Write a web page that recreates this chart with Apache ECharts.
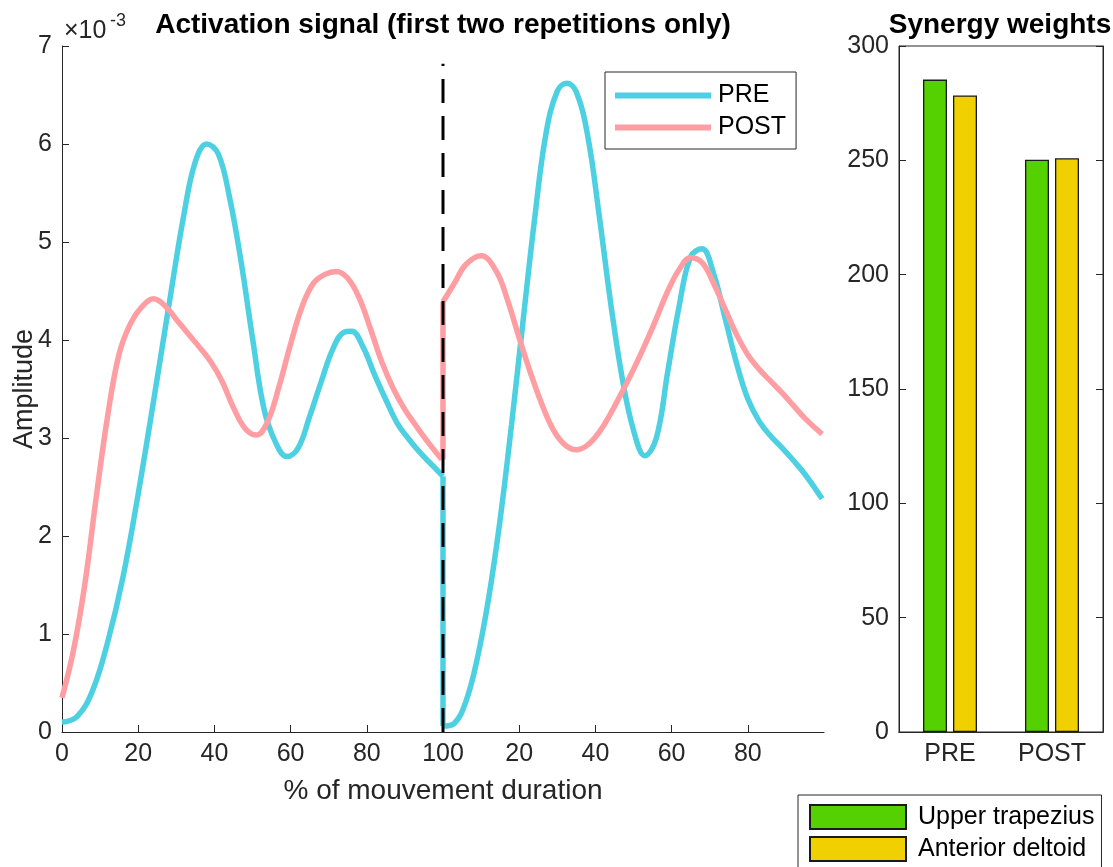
<!DOCTYPE html>
<html>
<head>
<meta charset="utf-8">
<script src="https://cdn.jsdelivr.net/npm/echarts@6/dist/echarts.min.js"></script>
<style>
  html, body { margin: 0; padding: 0; background: #fff; }
  #chart { width: 1113px; height: 867px; }
</style>
</head>
<body>
<div id="chart"></div>
<script>
// activation signal, amplitude in 1e-3 units, x = % of movement (second rep shifted by 100)
const preX1 = [0, 4, 8, 12, 16, 20, 24, 28, 32, 35, 38, 41, 44, 47, 50, 53, 56, 59, 62, 65, 68, 71, 74, 76, 79, 82, 85, 88, 91, 94, 97, 100];
const preY1 = [0.10, 0.16, 0.42, 0.92, 1.58, 2.43, 3.37, 4.34, 5.28, 5.82, 6.00, 5.90, 5.45, 4.80, 4.02, 3.30, 2.96, 2.81, 2.90, 3.22, 3.57, 3.90, 4.08, 4.09, 3.93, 3.65, 3.39, 3.15, 2.99, 2.85, 2.73, 2.61];

const postX1 = [0, 3, 6, 9, 12, 15, 18, 21, 24, 27, 30, 33, 36, 39, 42, 45, 48, 51, 54, 57, 60, 63, 66, 69, 72, 75, 78, 81, 84, 87, 90, 93, 96, 99.7];
const postY1 = [0.35, 0.83, 1.51, 2.40, 3.23, 3.86, 4.17, 4.34, 4.42, 4.35, 4.21, 4.07, 3.93, 3.78, 3.58, 3.31, 3.10, 3.03, 3.17, 3.53, 3.96, 4.34, 4.58, 4.67, 4.70, 4.63, 4.43, 4.11, 3.77, 3.50, 3.29, 3.12, 2.96, 2.78];

const preX2 = [100, 103, 106, 109, 112, 115, 118, 121, 124, 127, 130, 132.5, 135, 138, 141, 144, 147, 150, 153, 156, 159, 162, 165, 168, 171, 174, 177, 180, 183, 186, 189, 192, 195, 199.5];
const preY2 = [0.06, 0.09, 0.31, 0.75, 1.37, 2.17, 3.14, 4.19, 5.22, 6.10, 6.54, 6.62, 6.53, 6.08, 5.27, 4.38, 3.62, 3.08, 2.82, 3.00, 3.68, 4.35, 4.85, 4.93, 4.68, 4.23, 3.77, 3.40, 3.17, 3.02, 2.90, 2.77, 2.63, 2.38];

const postX2 = [100, 103, 106, 110, 114, 117, 120, 123, 126, 129, 132, 135, 138, 141, 144, 147, 150, 153, 156, 159, 162, 165, 168, 171, 174, 177, 180, 183, 186, 189, 192, 195, 199.5];
const postY2 = [4.39, 4.58, 4.77, 4.86, 4.70, 4.40, 4.02, 3.66, 3.34, 3.08, 2.93, 2.88, 2.93, 3.06, 3.25, 3.47, 3.70, 3.95, 4.22, 4.50, 4.72, 4.84, 4.79, 4.58, 4.32, 4.06, 3.85, 3.70, 3.58, 3.46, 3.33, 3.20, 3.04];

// vertical jump between repetitions and the separator line
const preJumpY = [2.61, 0.06];
const postJumpY = [2.78, 4.39];
const cutY = [0, 6.82];

const xTicks = [0, 20, 40, 60, 80, 100, 120, 140, 160, 180];

// synergy weights
const groups = ['PRE', 'POST'];
const upperTrap = [285.3, 250.3];
const antDelt = [278.4, 250.9];

const zip = (xs, ys) => xs.map((x, i) => [x, ys[i]]);
const FONT = "'Liberation Sans', Arial, sans-serif";
const AX = '#262626';
const CYAN = '#4dd0e1';
const PINK = '#ff9ea2';

const chart = echarts.init(document.getElementById('chart'), null, { renderer: 'canvas' });

const lineSeries = (name, data, color, smooth) => ({
  type: 'line', name, data, xAxisIndex: 0, yAxisIndex: 0,
  smooth, symbol: 'none',
  lineStyle: { color, width: 5.5 }, itemStyle: { color }
});

const option = {
  animation: false,
  textStyle: { fontFamily: FONT },
  grid: [
    { left: 62, top: 46, width: 762, height: 686, outerBoundsMode: 'none', containLabel: false },
    { left: 899, top: 46, width: 204, height: 686, outerBoundsMode: 'none', containLabel: false,
      show: true, borderColor: AX, borderWidth: 1, backgroundColor: 'transparent' }
  ],
  xAxis: [
    {
      type: 'value', gridIndex: 0, min: 0, max: 200,
      axisLine: { lineStyle: { color: AX, width: 1 } },
      axisTick: { inside: true, length: 7, customValues: xTicks, lineStyle: { color: AX } },
      axisLabel: {
        customValues: xTicks, fontSize: 25, color: AX, fontFamily: FONT, margin: 10,
        formatter: v => String(v > 100 ? v - 100 : v)
      },
      splitLine: { show: false },
      name: '% of mouvement duration', nameLocation: 'middle', nameGap: 45, nameMoveOverlap: false,
      nameTextStyle: { fontSize: 28, color: AX, fontFamily: FONT }
    },
    {
      type: 'category', gridIndex: 1, data: groups,
      axisLine: { lineStyle: { color: AX } },
      axisTick: { inside: true, length: 7, alignWithLabel: true, lineStyle: { color: AX } },
      axisLabel: { fontSize: 25, color: AX, fontFamily: FONT, margin: 10 }
    },
    {
      type: 'category', gridIndex: 1, data: groups, position: 'top',
      axisLine: { lineStyle: { color: AX } },
      axisTick: { inside: true, length: 7, alignWithLabel: true, lineStyle: { color: AX } },
      axisLabel: { show: false }
    }
  ],
  yAxis: [
    {
      type: 'value', gridIndex: 0, min: 0, max: 7, interval: 1,
      axisLine: { show: true, lineStyle: { color: AX, width: 1 } },
      axisTick: { show: true, inside: true, length: 7, lineStyle: { color: AX } },
      axisLabel: { fontSize: 25, color: AX, fontFamily: FONT, margin: 10 },
      splitLine: { show: false },
      name: 'Amplitude', nameLocation: 'middle', nameGap: 24, nameMoveOverlap: false,
      nameTextStyle: { fontSize: 27, color: AX, fontFamily: FONT }
    },
    {
      type: 'value', gridIndex: 1, min: 0, max: 300, interval: 50,
      axisLine: { show: true, lineStyle: { color: AX } },
      axisTick: { show: true, inside: true, length: 7, lineStyle: { color: AX } },
      axisLabel: { fontSize: 25, color: AX, fontFamily: FONT, margin: 10 },
      splitLine: { show: false }
    },
    {
      type: 'value', gridIndex: 1, min: 0, max: 300, interval: 50, position: 'right',
      axisLine: { show: true, lineStyle: { color: AX } },
      axisTick: { show: true, inside: true, length: 7, lineStyle: { color: AX } },
      axisLabel: { show: false },
      splitLine: { show: false }
    }
  ],
  legend: [
    {
      data: [{ name: 'PRE', icon: 'rect' }, { name: 'POST', icon: 'rect' }],
      left: 605, top: 72, orient: 'vertical',
      itemWidth: 96, itemHeight: 6, itemGap: 7,
      padding: [11, 10, 9, 10],
      backgroundColor: '#fff', borderColor: AX, borderWidth: 1,
      selectedMode: false,
      textStyle: { fontSize: 25, color: '#000', fontFamily: FONT, lineHeight: 24, padding: [0, 0, 0, 2] }
    },
    {
      data: [{ name: 'Upper trapezius', icon: 'rect' }, { name: 'Anterior deltoid', icon: 'rect' }],
      left: 798, top: 795, orient: 'vertical', height: 120,
      itemWidth: 96, itemHeight: 24, itemGap: 6,
      padding: [9, 7, 20, 11],
      backgroundColor: '#fff', borderColor: AX, borderWidth: 1,
      selectedMode: false,
      textStyle: { fontSize: 25, color: '#000', fontFamily: FONT, lineHeight: 24, padding: [0, 0, 0, 7] }
    }
  ],
  graphic: [
    { type: 'text', x: 443, y: 25, style: { text: 'Activation signal (first two repetitions only)', font: 'bold 28px ' + FONT, fill: '#000', align: 'center', verticalAlign: 'middle' } },
    { type: 'text', x: 1000, y: 25, style: { text: 'Synergy weights', font: 'bold 28px ' + FONT, fill: '#000', align: 'center', verticalAlign: 'middle' } },
    { type: 'text', x: 64, y: 31, style: { text: '×10', font: '25px ' + FONT, fill: AX, align: 'left', verticalAlign: 'middle' } },
    { type: 'text', x: 110, y: 21, style: { text: '-3', font: '18px ' + FONT, fill: AX, align: 'left', verticalAlign: 'middle' } }
  ],
  series: [
    lineSeries('PRE', zip(preX1, preY1), CYAN, 0.4),
    lineSeries('POST', zip(postX1, postY1), PINK, 0.4),
    lineSeries('PRE', zip([100, 100], preJumpY), CYAN, false),
    lineSeries('POST', zip([100, 100], postJumpY), PINK, false),
    lineSeries('PRE', zip(preX2, preY2), CYAN, 0.4),
    lineSeries('POST', zip(postX2, postY2), PINK, 0.4),
    {
      type: 'line', name: 'cut', data: zip([100, 100], cutY), xAxisIndex: 0, yAxisIndex: 0,
      symbol: 'none', z: 5,
      lineStyle: { color: '#000', width: 3, type: [24, 13] }
    },
    {
      type: 'bar', name: 'Upper trapezius', data: upperTrap, xAxisIndex: 1, yAxisIndex: 1,
      barWidth: 24, barGap: '25%',
      itemStyle: { color: '#55d000', borderColor: '#1a1a1a', borderWidth: 1.3 }
    },
    {
      type: 'bar', name: 'Anterior deltoid', data: antDelt, xAxisIndex: 1, yAxisIndex: 1,
      barWidth: 24, barGap: '25%',
      itemStyle: { color: '#f0d000', borderColor: '#1a1a1a', borderWidth: 1.3 }
    }
  ]
};

chart.setOption(option);
</script>
</body>
</html>
